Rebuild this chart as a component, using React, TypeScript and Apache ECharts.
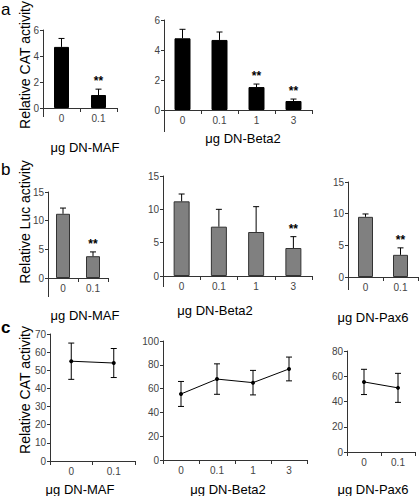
import React, { useEffect, useRef } from "react";
import * as echarts from "echarts";

// ---- categories ----
const doseMAF = ["0", "0.1"];
const doseBeta2 = ["0", "0.1", "1", "3"];
const dosePax6 = ["0", "0.1"];

// ---- panel a: relative CAT activity (bars) ----
const catMafMean = [4.7, 1.0];
const catMafErr = [0.65, 0.45];
const catMafSig = ["", "**"];
const catBetaMean = [4.78, 4.67, 1.53, 0.6];
const catBetaErr = [0.6, 0.53, 0.2, 0.13];
const catBetaSig = ["", "", "**", "**"];

// ---- panel b: relative Luc activity (bars) ----
const lucMafMean = [11.2, 3.8];
const lucMafErr = [1.0, 0.75];
const lucMafSig = ["", "**"];
const lucBetaMean = [11.2, 7.4, 6.6, 4.2];
const lucBetaErr = [1.1, 2.6, 3.8, 1.7];
const lucBetaSig = ["", "", "", "**"];
const lucPaxMean = [9.5, 3.5];
const lucPaxErr = [0.45, 1.1];
const lucPaxSig = ["", "**"];

// ---- panel c: relative CAT activity (lines) ----
const ctlMafMean = [55, 54];
const ctlMafErr = [10, 8];
const ctlBetaMean = [55.5, 68, 65, 76.5];
const ctlBetaErr = [10.5, 12.8, 10.3, 10];
const ctlPaxMean = [55.5, 50.8];
const ctlPaxErr = [10, 11.5];

const FONT = "Liberation Sans, Arial, sans-serif";
const AXIS = "#333";
const LABEL = "#444";

type Panel = {
  grid: { left: number; top: number; width: number; height: number };
  ext: number;
  cats: string[];
  mean: number[];
  err: number[];
  sig?: string[];
  kind: "bar" | "line";
  color?: string;
  ymax: number;
  interval: number;
  barWidth?: number;
  name: string;
  namePos: [number, number];
};

const panels: Panel[] = [
  { grid: { left: 43, top: 30, width: 74, height: 78 }, ext: 9, cats: doseMAF, mean: catMafMean, err: catMafErr, sig: catMafSig, kind: "bar", color: "#000", ymax: 6, interval: 2, barWidth: 15, name: "μg DN-MAF", namePos: [85, 147] },
  { grid: { left: 164, top: 20, width: 148, height: 90 }, ext: 22, cats: doseBeta2, mean: catBetaMean, err: catBetaErr, sig: catBetaSig, kind: "bar", color: "#000", ymax: 6, interval: 2, barWidth: 16, name: "μg DN-Beta2", namePos: [243, 138] },
  { grid: { left: 48, top: 192, width: 60, height: 86 }, ext: 19, cats: doseMAF, mean: lucMafMean, err: lucMafErr, sig: lucMafSig, kind: "bar", color: "#808080", ymax: 15, interval: 5, barWidth: 14, name: "μg DN-MAF", namePos: [85, 315] },
  { grid: { left: 163, top: 176, width: 149, height: 100 }, ext: 11, cats: doseBeta2, mean: lucBetaMean, err: lucBetaErr, sig: lucBetaSig, kind: "bar", color: "#808080", ymax: 15, interval: 5, barWidth: 16, name: "μg DN-Beta2", namePos: [215, 310] },
  { grid: { left: 348, top: 182, width: 70, height: 95 }, ext: 13, cats: dosePax6, mean: lucPaxMean, err: lucPaxErr, sig: lucPaxSig, kind: "bar", color: "#808080", ymax: 15, interval: 5, barWidth: 15, name: "μg DN-Pax6", namePos: [373, 317] },
  { grid: { left: 50, top: 334, width: 85, height: 127 }, ext: 0, cats: doseMAF, mean: ctlMafMean, err: ctlMafErr, kind: "line", ymax: 70, interval: 10, name: "μg DN-MAF", namePos: [80, 489] },
  { grid: { left: 163, top: 341, width: 144, height: 119 }, ext: 0, cats: doseBeta2, mean: ctlBetaMean, err: ctlBetaErr, kind: "line", ymax: 100, interval: 20, name: "μg DN-Beta2", namePos: [228, 489] },
  { grid: { left: 347, top: 351, width: 68, height: 101 }, ext: 0, cats: dosePax6, mean: ctlPaxMean, err: ctlPaxErr, kind: "line", ymax: 80, interval: 20, name: "μg DN-Pax6", namePos: [373, 489] },
];

function errRender(sig: string[] | undefined, both: boolean, cap: number) {
  return (params: any, api: any) => {
    const i = params.dataIndex;
    const x = api.value(0);
    const v = api.value(1);
    const e = api.value(2);
    const pTop = api.coord([x, v + e]);
    const pBase = api.coord([x, both ? v - e : v]);
    const st = { stroke: "#000", lineWidth: 1 };
    const children: any[] = [
      { type: "line", shape: { x1: pTop[0], y1: pTop[1], x2: pBase[0], y2: pBase[1] }, style: st },
      { type: "line", shape: { x1: pTop[0] - cap, y1: pTop[1], x2: pTop[0] + cap, y2: pTop[1] }, style: st },
    ];
    if (both) {
      children.push({ type: "line", shape: { x1: pBase[0] - cap, y1: pBase[1], x2: pBase[0] + cap, y2: pBase[1] }, style: st });
    }
    if (sig && sig[i]) {
      children.push({
        type: "text",
        x: pTop[0],
        y: pTop[1] - 2,
        style: { text: sig[i], fill: "#000", font: `bold 12px ${FONT}`, textAlign: "center", textVerticalAlign: "bottom" },
      });
    }
    return { type: "group", children };
  };
}

export default function App() {
  const ref = useRef<HTMLDivElement>(null);
  useEffect(() => {
    if (!ref.current) return;
    const chart = echarts.init(ref.current, undefined, { renderer: "svg" });
    const grids: any[] = [];
    const xAxes: any[] = [];
    const yAxes: any[] = [];
    const series: any[] = [];
    const graphics: any[] = [];

    panels.forEach((p, k) => {
      grids.push({ ...p.grid, containLabel: false });
      xAxes.push({
        type: "category",
        gridIndex: k,
        data: p.cats,
        boundaryGap: true,
        axisLine: { show: true, lineStyle: { color: AXIS, width: 1 } },
        axisTick: { show: true, length: 4, interval: 0, alignWithLabel: false, lineStyle: { color: AXIS } },
        axisLabel: { interval: 0, margin: 5, fontSize: 10, fontFamily: FONT, color: LABEL },
        splitLine: { show: false },
      });
      yAxes.push({
        type: "value",
        gridIndex: k,
        min: 0,
        max: p.ymax,
        interval: p.interval,
        axisLine: { show: true, lineStyle: { color: AXIS, width: 1 } },
        axisTick: { show: true, length: 3, inside: false, lineStyle: { color: AXIS } },
        axisLabel: { margin: 4, fontSize: 10, fontFamily: FONT, color: LABEL },
        splitLine: { show: false },
      });

      if (p.ext > 0) {
        const bx = p.grid.left + 0.5;
        const by = p.grid.top + p.grid.height;
        graphics.push({
          type: "line",
          shape: { x1: bx, y1: by, x2: bx, y2: by + p.ext },
          style: { stroke: AXIS, lineWidth: 1 },
          silent: true,
        });
      }

      if (p.kind === "bar") {
        series.push({
          type: "bar",
          xAxisIndex: k,
          yAxisIndex: k,
          data: p.mean,
          barWidth: p.barWidth,
          itemStyle: { color: p.color, borderColor: p.color === "#000" ? "#000" : "#333", borderWidth: 1 },
          silent: true,
        });
        series.push({
          type: "custom",
          xAxisIndex: k,
          yAxisIndex: k,
          data: p.mean.map((m, i) => [i, m, p.err[i]]),
          encode: { x: 0, y: 1 },
          renderItem: errRender(p.sig, false, 3),
          z: 5,
        });
      } else {
        series.push({
          type: "line",
          xAxisIndex: k,
          yAxisIndex: k,
          data: p.mean,
          symbol: "circle",
          symbolSize: 4,
          lineStyle: { color: "#000", width: 1 },
          itemStyle: { color: "#000" },
          z: 6,
        });
        series.push({
          type: "custom",
          xAxisIndex: k,
          yAxisIndex: k,
          data: p.mean.map((m, i) => [i, m, p.err[i]]),
          encode: { x: 0, y: 1 },
          renderItem: errRender(undefined, true, 3),
          z: 5,
        });
      }

      graphics.push({
        type: "text",
        x: p.namePos[0],
        y: p.namePos[1],
        style: { text: p.name, fill: "#000", font: `13px ${FONT}`, textAlign: "center", textVerticalAlign: "middle" },
      });
    });

    // Y-axis titles
    const yTitles: [string, number][] = [
      ["Relative CAT activity", 65],
      ["Relative Luc activity", 222],
      ["Relative CAT activity", 390],
    ];
    yTitles.forEach(([t, cy]) => {
      graphics.push({
        type: "text",
        x: 25,
        y: cy,
        rotation: Math.PI / 2,
        style: { text: t, fill: "#000", font: `14px ${FONT}`, textAlign: "center", textVerticalAlign: "middle" },
      });
    });

    // Panel letters
    graphics.push({ type: "text", x: 1, y: 9, style: { text: "a", fill: "#000", font: `17px ${FONT}`, textVerticalAlign: "middle" } });
    graphics.push({ type: "text", x: 1, y: 169, style: { text: "b", fill: "#000", font: `17px ${FONT}`, textVerticalAlign: "middle" } });
    graphics.push({ type: "text", x: 1, y: 327, style: { text: "c", fill: "#000", font: `bold 17px ${FONT}`, textVerticalAlign: "middle" } });

    chart.setOption({
      animation: false,
      backgroundColor: "#fff",
      grid: grids,
      xAxis: xAxes,
      yAxis: yAxes,
      series,
      graphic: graphics,
    });
    return () => chart.dispose();
  }, []);
  return <div ref={ref} style={{ position: "fixed", left: 0, top: 0, width: 419, height: 496 }} />;
}
